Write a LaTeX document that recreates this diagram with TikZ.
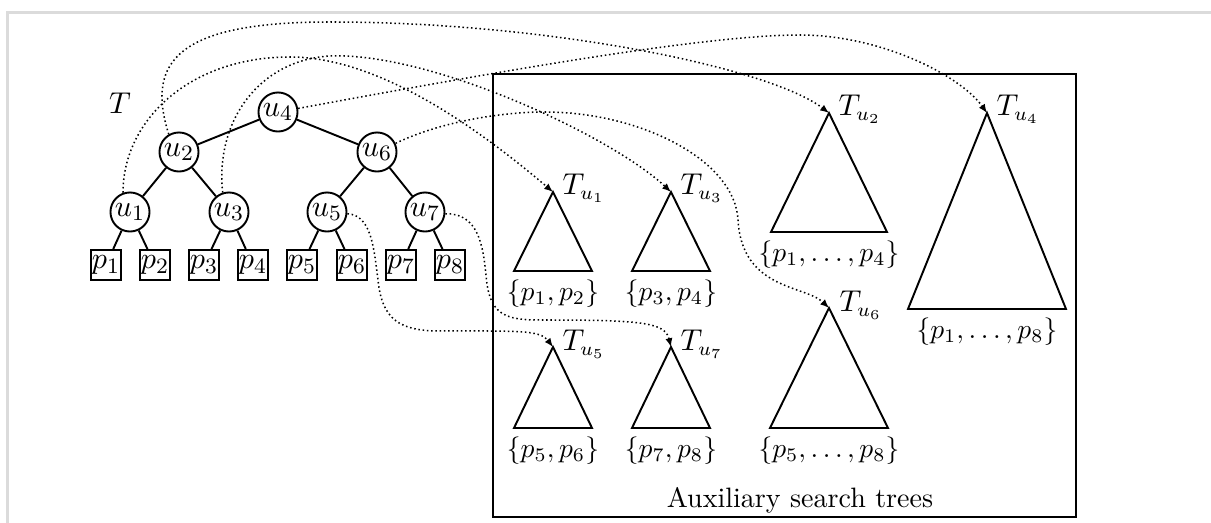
\documentclass[tikz,border=0pt]{standalone}
\usetikzlibrary{arrows.meta}
\begin{document}
\begin{tikzpicture}[x=0.3636pt,y=0.3636pt,
  unode/.style={circle,draw,line width=0.7pt,minimum size=14.2pt,inner sep=0pt,font=\fontsize{11}{13}\selectfont},
  leaf/.style={rectangle,draw,line width=0.7pt,minimum width=10.9pt,minimum height=10.9pt,inner sep=0.3pt,font=\fontsize{11}{13}\selectfont},
  edge/.style={line width=0.7pt},
  tri/.style={line width=0.7pt,line join=miter},
  ptr/.style={densely dotted,line width=0.55pt,-{Latex[length=3.2pt,width=2.6pt]}},
  tlabel/.style={anchor=base west,inner sep=0pt,font=\fontsize{10.6}{12.5}\selectfont},
  setlabel/.style={anchor=north,inner sep=3pt,font=\fontsize{10.3}{12.5}\selectfont},
  frame/.style={draw=black!14,line width=1pt}]
\useasboundingbox (0,0) rectangle (1211,-523);
% screenshot frame
\draw[frame] (7.5,-523) -- (7.5,-12.5) -- (1211,-12.5);
% main tree
\node[font=\fontsize{11}{13}\selectfont] (tl) at (120,-103) {$T$};
\node[unode] (u4) at (278,-112) {$u_4$};
\node[unode] (u2) at (179,-152) {$u_2$};
\node[unode] (u6) at (377,-152) {$u_6$};
\node[unode] (u1) at (130,-212) {$u_1$};
\node[unode] (u3) at (229,-212) {$u_3$};
\node[unode] (u5) at (327,-212) {$u_5$};
\node[unode] (u7) at (425,-212) {$u_7$};
\node[leaf] (p1) at (106,-265) {$p_1$};
\node[leaf] (p2) at (155,-265) {$p_2$};
\node[leaf] (p3) at (204,-265) {$p_3$};
\node[leaf] (p4) at (253,-265) {$p_4$};
\node[leaf] (p5) at (302,-265) {$p_5$};
\node[leaf] (p6) at (352,-265) {$p_6$};
\node[leaf] (p7) at (401,-265) {$p_7$};
\node[leaf] (p8) at (450,-265) {$p_8$};
\draw[edge] (u4) -- (u2); \draw[edge] (u4) -- (u6);
\draw[edge] (u2) -- (u1); \draw[edge] (u2) -- (u3);
\draw[edge] (u6) -- (u5); \draw[edge] (u6) -- (u7);
\draw[edge] (u1) -- (p1); \draw[edge] (u1) -- (p2);
\draw[edge] (u3) -- (p3); \draw[edge] (u3) -- (p4);
\draw[edge] (u5) -- (p5); \draw[edge] (u5) -- (p6);
\draw[edge] (u7) -- (p7); \draw[edge] (u7) -- (p8);
% auxiliary box
\draw[line width=0.7pt] (493,-74) rectangle (1076,-517);
\node[anchor=base,font=\fontsize{10.2}{12}\selectfont] (aux) at (800,-508) {Auxiliary search trees};
% triangles
\coordinate (a1) at (553,-192);
\coordinate (a3) at (671,-192);
\coordinate (a2) at (829,-113);
\coordinate (a4) at (987,-113);
\coordinate (a5) at (553,-347);
\coordinate (a7) at (671,-347);
\coordinate (a6) at (829,-308);
\draw[tri] (a1) -- (514,-271) -- (592,-271) -- cycle;
\draw[tri] (a3) -- (632,-271) -- (710,-271) -- cycle;
\draw[tri] (a2) -- (771,-232) -- (887,-232) -- cycle;
\draw[tri] (a4) -- (908,-309) -- (1066,-309) -- cycle;
\draw[tri] (a5) -- (514,-428) -- (592,-428) -- cycle;
\draw[tri] (a7) -- (632,-428) -- (710,-428) -- cycle;
\draw[tri] (a6) -- (770,-428) -- (888,-428) -- cycle;
\node[tlabel] (l1) at (562,-195) {$T_{u_1}$};
\node[tlabel] (l3) at (680,-195) {$T_{u_3}$};
\node[tlabel] (l2) at (838,-116) {$T_{u_2}$};
\node[tlabel] (l4) at (996,-116) {$T_{u_4}$};
\node[tlabel] (l5) at (562,-351) {$T_{u_5}$};
\node[tlabel] (l7) at (680,-351) {$T_{u_7}$};
\node[tlabel] (l6) at (839,-312) {$T_{u_6}$};
\node[setlabel] (s1) at (553,-271) {$\{p_1,p_2\}$};
\node[setlabel] (s3) at (671,-271) {$\{p_3,p_4\}$};
\node[setlabel] (s2) at (829,-232) {$\{p_1,\ldots,p_4\}$};
\node[setlabel] (s4) at (987,-309) {$\{p_1,\ldots,p_8\}$};
\node[setlabel] (s5) at (553,-428) {$\{p_5,p_6\}$};
\node[setlabel] (s7) at (671,-428) {$\{p_7,p_8\}$};
\node[setlabel] (s6) at (829,-428) {$\{p_5,\ldots,p_8\}$};
% pointers
\draw[ptr] (u1.110) .. controls (123,-120) and (190,-57) .. (290,-57) .. controls (380,-57) and (480,-130) .. (a1);
\draw[ptr] (u3.108) .. controls (215,-120) and (260,-60) .. (330,-56) .. controls (430,-52) and (610,-135) .. (a3);
\draw[ptr] (u2.120) .. controls (145,-60) and (180,-22) .. (330,-22) .. controls (550,-22) and (770,-68) .. (a2);
\draw[ptr] (u4.10) .. controls (480,-75) and (700,-35) .. (800,-35) .. controls (880,-35) and (960,-75) .. (a4);
\draw[ptr] (u6.25) .. controls (440,-122) and (500,-112) .. (545,-112) .. controls (640,-112) and (735,-160) .. (738,-220) .. controls (742,-290) and (805,-285) .. (a6);
\draw[ptr] (u5.-5) .. controls (372,-215) and (374,-250) .. (378,-280) .. controls (382,-320) and (400,-331) .. (440,-331) .. controls (520,-331) and (540,-330) .. (a5);
\draw[ptr] (u7.-5) .. controls (478,-213) and (483,-245) .. (486,-275) .. controls (489,-315) and (505,-320) .. (540,-320) .. controls (640,-320) and (665,-322) .. (a7);
\end{tikzpicture}
\end{document}
